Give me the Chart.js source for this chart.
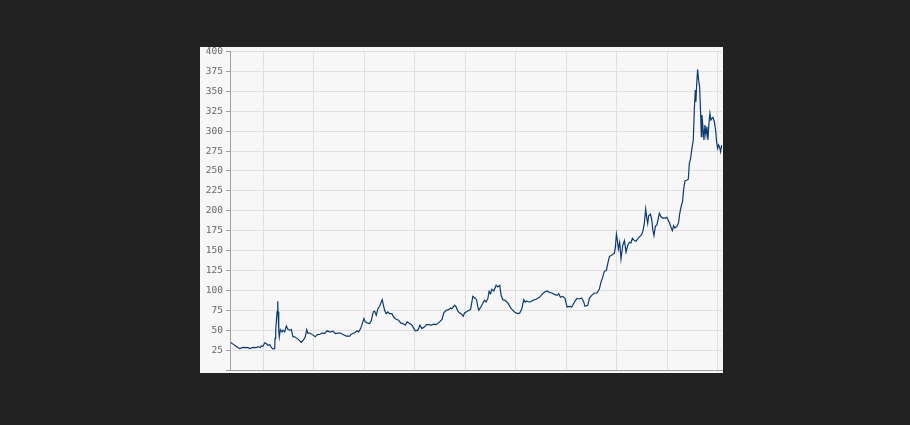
<!DOCTYPE html>
<html>
<head>
<meta charset="utf-8">
<script src="https://cdn.jsdelivr.net/npm/chart.js@4.4.1/dist/chart.umd.min.js"></script>
<style>
  html, body { margin: 0; padding: 0; background: #222222; }
  #c { display: block; }
</style>
</head>
<body>
<canvas id="c" width="910" height="425"></canvas>
<script>
// Decimal-year positions of the price observations
const years = [
  2003.355, 2003.401, 2003.446, 2003.500, 2003.533, 2003.599, 2003.697, 2003.731, 2003.796, 2003.862,
  2003.895, 2003.941, 2003.960, 2003.994, 2004.028, 2004.059, 2004.093, 2004.127, 2004.158, 2004.192,
  2004.225, 2004.231, 2004.245, 2004.271, 2004.285, 2004.291, 2004.305, 2004.316, 2004.336, 2004.370,
  2004.390, 2004.423, 2004.455, 2004.489, 2004.522, 2004.554, 2004.587, 2004.621, 2004.686, 2004.752,
  2004.805, 2004.831, 2004.858, 2004.884, 2004.918, 2004.983, 2005.028, 2005.068, 2005.115, 2005.167,
  2005.214, 2005.260, 2005.313, 2005.333, 2005.379, 2005.424, 2005.511, 2005.576, 2005.642, 2005.709,
  2005.740, 2005.808, 2005.859, 2005.887, 2005.926, 2005.958, 2005.992, 2006.017, 2006.057, 2006.104,
  2006.136, 2006.176, 2006.203, 2006.235, 2006.269, 2006.302, 2006.334, 2006.354, 2006.373, 2006.401,
  2006.433, 2006.466, 2006.500, 2006.545, 2006.585, 2006.630, 2006.678, 2006.718, 2006.763, 2006.808,
  2006.848, 2006.895, 2006.941, 2006.981, 2007.006, 2007.060, 2007.099, 2007.139, 2007.192, 2007.232,
  2007.277, 2007.323, 2007.376, 2007.422, 2007.489, 2007.534, 2007.574, 2007.619, 2007.667, 2007.706,
  2007.732, 2007.786, 2007.817, 2007.851, 2007.884, 2007.916, 2007.956, 2007.983, 2008.048, 2008.102,
  2008.147, 2008.181, 2008.221, 2008.246, 2008.266, 2008.312, 2008.345, 2008.379, 2008.410, 2008.444,
  2008.470, 2008.497, 2008.523, 2008.563, 2008.608, 2008.642, 2008.681, 2008.707, 2008.741, 2008.786,
  2008.840, 2008.893, 2008.939, 2008.984, 2009.037, 2009.077, 2009.116, 2009.156, 2009.182, 2009.209,
  2009.255, 2009.289, 2009.334, 2009.399, 2009.467, 2009.512, 2009.566, 2009.617, 2009.664, 2009.710,
  2009.763, 2009.815, 2009.848, 2009.882, 2009.927, 2009.973, 2010.012, 2010.060, 2010.105, 2010.159,
  2010.210, 2010.258, 2010.303, 2010.343, 2010.368, 2010.422, 2010.456, 2010.501, 2010.554, 2010.606,
  2010.653, 2010.685, 2010.719, 2010.752, 2010.792, 2010.817, 2010.851, 2010.883, 2010.916, 2010.950,
  2010.970, 2010.990, 2011.009, 2011.029, 2011.055, 2011.081, 2011.114, 2011.148, 2011.180, 2011.213,
  2011.247, 2011.278, 2011.306, 2011.345, 2011.377, 2011.411, 2011.450, 2011.490, 2011.516, 2011.543,
  2011.569, 2011.589, 2011.609, 2011.628, 2011.662, 2011.688, 2011.708, 2011.733, 2011.761, 2011.793,
  2011.820, 2011.840, 2011.872, 2011.911, 2011.951, 2011.990, 2012.018, 2012.044, 2012.070, 2012.097,
  2012.123, 2012.148, 2012.188, 2012.222, 2012.241, 2012.267, 2012.301, 2012.321, 2012.346, 2012.380,
  2012.413, 2012.433, 2012.459, 2012.485, 2012.512, 2012.532, 2012.552, 2012.564, 2012.578, 2012.597,
  2012.617, 2012.637, 2012.657, 2012.671, 2012.683, 2012.702, 2012.722, 2012.742, 2012.762, 2012.781,
  2012.801, 2012.821, 2012.841, 2012.860, 2012.880, 2012.900, 2012.928, 2012.953, 2012.973, 2012.993,
  2013.013, 2013.033, 2013.052, 2013.072
];

// Price values
const prices = [
  34.6, 32.5, 30.4, 27.9, 27.0, 28.3, 28.0, 27.0, 28.3, 28.0,
  29.2, 28.3, 30.4, 30.0, 34.2, 33.3, 30.8, 32.0, 28.3, 26.2,
  27.0, 39.6, 50.0, 72.9, 86.2, 73.0, 50.0, 41.7, 50.8, 47.9,
  50.0, 47.9, 55.4, 50.8, 50.0, 50.8, 41.7, 41.7, 38.8, 34.6,
  38.8, 41.7, 50.8, 45.8, 46.7, 43.8, 41.7, 44.6, 44.6, 46.7,
  45.8, 49.2, 47.9, 47.9, 48.8, 45.8, 46.7, 44.6, 42.5, 42.5,
  45.0, 46.7, 49.2, 47.9, 52.0, 58.3, 64.6, 60.4, 59.2, 58.3,
  61.7, 72.9, 74.0, 68.8, 77.0, 80.0, 85.4, 88.3, 82.5, 75.0,
  70.8, 72.9, 70.8, 70.8, 65.8, 63.8, 62.5, 59.2, 58.3, 56.3,
  60.4, 58.3, 56.3, 52.0, 49.2, 50.0, 56.3, 52.0, 54.2, 57.0,
  57.0, 56.3, 57.5, 57.0, 60.4, 63.3, 71.7, 75.0, 75.8, 77.9,
  77.0, 81.3, 79.2, 73.8, 71.7, 70.8, 67.5, 71.7, 74.2, 75.8,
  92.5, 90.8, 88.3, 79.2, 75.0, 80.0, 83.8, 87.5, 85.4, 89.6,
  98.8, 95.8, 101.3, 99.2, 106.3, 104.2, 106.3, 93.8, 88.3, 87.5,
  84.2, 78.3, 75.0, 72.1, 70.8, 71.7, 77.0, 88.3, 85.4, 86.7,
  85.4, 85.4, 87.5, 88.8, 91.3, 94.6, 98.0, 99.2, 97.5, 96.7,
  95.0, 93.8, 95.8, 91.3, 92.5, 90.0, 79.2, 80.0, 79.2, 85.4,
  90.0, 89.2, 90.4, 85.4, 80.0, 81.3, 90.4, 93.8, 96.7, 96.7,
  102.0, 110.4, 116.7, 124.2, 125.0, 133.3, 142.5, 143.8, 145.0, 146.7,
  154.2, 170.8, 163.3, 152.0, 160.4, 139.6, 156.3, 162.5, 148.0, 156.3,
  160.4, 159.6, 165.4, 162.5, 161.7, 164.6, 167.5, 170.0, 175.0, 184.2,
  202.0, 191.7, 184.2, 193.8, 195.8, 189.6, 177.0, 168.8, 180.4, 182.5,
  190.8, 196.7, 192.5, 190.8, 190.8, 191.7, 187.9, 184.2, 179.2, 175.0,
  181.3, 178.3, 180.4, 185.4, 195.8, 204.2, 212.5, 227.0, 237.5, 238.3,
  239.6, 259.5, 265.8, 278.3, 288.8, 327.3, 351.6, 336.9, 358.0, 377.5,
  364.0, 355.6, 322.3, 293.0, 320.2, 305.6, 288.8, 307.7, 295.1, 305.6,
  288.8, 309.7, 322.3, 313.9, 316.0, 317.2, 311.8, 301.4, 286.7, 278.3,
  282.6, 279.6, 274.1, 282.6
];

// Vertical gridline positions (year boundaries) and y tick values
const gridYears = [2004, 2005, 2006, 2007, 2008, 2009, 2010, 2011, 2012, 2013];
const yTicks = [0, 25, 50, 75, 100, 125, 150, 175, 200, 225, 250, 275, 300, 325, 350, 375, 400];
const xRange = [2003.34, 2013.08];

const panelBg = {
  id: 'panelBg',
  beforeDraw(chart) {
    const ctx = chart.ctx;
    ctx.save();
    ctx.fillStyle = '#f7f7f7';
    ctx.fillRect(200, 47, 523, 326);
    ctx.restore();
  }
};

const points = years.map((x, i) => ({ x: x, y: prices[i] }));

new Chart(document.getElementById('c'), {
  type: 'line',
  data: {
    datasets: [{
      data: points,
      borderColor: '#0a3a70',
      borderWidth: 1.2,
      pointRadius: 0,
      tension: 0,
      fill: false
    }]
  },
  options: {
    responsive: false,
    animation: false,
    devicePixelRatio: 1,
    layout: { padding: { left: 200, top: 51.5, right: 188, bottom: 55 } },
    plugins: { legend: { display: false }, tooltip: { enabled: false } },
    scales: {
      x: {
        type: 'linear',
        min: xRange[0],
        max: xRange[1],
        afterBuildTicks(scale) { scale.ticks = gridYears.map(v => ({ value: v })); },
        afterFit(scale) { scale.height = 0; },
        ticks: { display: false },
        grid: { color: '#e0e0e0', lineWidth: 1, drawTicks: false },
        border: { color: '#a0a0a0', width: 1 }
      },
      y: {
        type: 'linear',
        min: 0,
        max: 400,
        afterBuildTicks(scale) { scale.ticks = yTicks.map(v => ({ value: v })); },
        afterFit(scale) { scale.width = 30; },
        ticks: {
          padding: 3,
          color: '#666666',
          font: { family: 'DejaVu Sans Mono', size: 9.5 },
          callback: v => (v === 0 ? '' : String(v))
        },
        grid: { color: '#e0e0e0', lineWidth: 1, tickLength: 4, tickColor: '#a0a0a0' },
        border: { color: '#a0a0a0', width: 1 }
      }
    }
  },
  plugins: [panelBg]
});
</script>
</body>
</html>
